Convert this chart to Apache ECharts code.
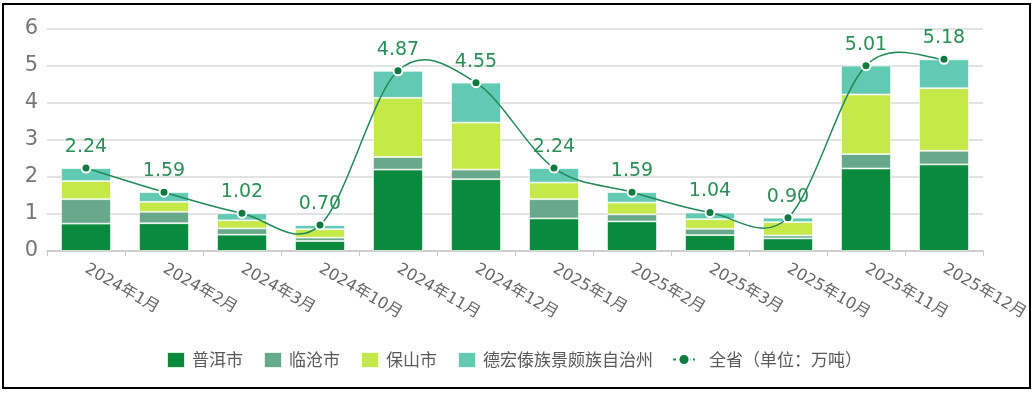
<!DOCTYPE html>
<html><head><meta charset="utf-8">
<script src="https://cdn.jsdelivr.net/npm/echarts@6/dist/echarts.min.js"></script>
<style>html,body{margin:0;padding:0;background:#fff}#c{width:1036px;height:393px}</style>
</head><body><div id="c"></div>
<script>
const categories = ['2024年1月','2024年2月','2024年3月','2024年10月','2024年11月','2024年12月','2025年1月','2025年2月','2025年3月','2025年10月','2025年11月','2025年12月'];
const puer    = [0.74,0.75,0.44,0.27,2.20,1.94,0.88,0.80,0.43,0.34,2.23,2.34];
const lincang = [0.66,0.31,0.17,0.09,0.34,0.26,0.52,0.19,0.17,0.08,0.39,0.37];
const baoshan = [0.49,0.27,0.22,0.23,1.60,1.27,0.45,0.32,0.26,0.36,1.61,1.69];
const dehong  = [0.35,0.26,0.19,0.11,0.73,1.08,0.39,0.28,0.18,0.12,0.78,0.78];
const total   = [2.24,1.59,1.02,0.70,4.87,4.55,2.24,1.59,1.04,0.90,5.01,5.18];
const yTicks  = [0,1,2,3,4,5,6];
const lineName = '全省（单位：万吨）';

const cjk = '"Noto Sans CJK SC", "Noto Sans", sans-serif';
const latin = '"DejaVu Sans", "Noto Sans CJK SC", sans-serif';
const lineColor = '#23895a';
const chart = echarts.init(document.getElementById('c'));
const barStyle = (c) => ({ color: c, borderColor: 'rgba(255,255,255,0.85)', borderWidth: 0.8 });

// Catmull-Rom smooth curve segment between point i and i+1, through the axis scales
function renderSeg(params, api) {
  const i = params.dataIndex, n = total.length;
  if (i >= n - 1) return null;
  const P = k => api.coord([Math.max(0, Math.min(n - 1, k)), total[Math.max(0, Math.min(n - 1, k))]]);
  const p0 = P(i - 1), p1 = P(i), p2 = P(i + 1), p3 = P(i + 2);
  return {
    type: 'bezierCurve',
    shape: {
      x1: p1[0], y1: p1[1], x2: p2[0], y2: p2[1],
      cpx1: p1[0] + (p2[0] - p0[0]) / 6, cpy1: p1[1] + (p2[1] - p0[1]) / 6,
      cpx2: p2[0] - (p3[0] - p1[0]) / 6, cpy2: p2[1] - (p3[1] - p1[1]) / 6
    },
    style: { stroke: lineColor, lineWidth: 1.5, fill: null }
  };
}

chart.setOption({
  animation: false,
  textStyle: { fontFamily: cjk },
  grid: { left: 47, right: 53, top: 29, bottom: 142, containLabel: false },
  legend: [{
    left: 166, top: 351, itemWidth: 18, itemHeight: 16, itemGap: 20, padding: 0,
    textStyle: { fontSize: 17, color: '#595959', fontFamily: cjk, padding: [0, 0, 0, 2] },
    data: [
      { name: '普洱市', icon: 'rect' },
      { name: '临沧市', icon: 'rect' },
      { name: '保山市', icon: 'rect' },
      { name: '德宏傣族景颇族自治州', icon: 'rect' }
    ]
  }, {
    left: 672, top: 351, itemWidth: 22, itemHeight: 14, padding: 0,
    textStyle: { fontSize: 17, color: '#595959', fontFamily: cjk, padding: [0, 0, 0, 9] },
    data: [{ name: lineName, lineStyle: { color: lineColor, width: 2, type: [3, 2], opacity: 1 } }]
  }],
  xAxis: {
    type: 'category', data: categories,
    axisLine: { lineStyle: { color: '#c8c8c8', width: 1.5 } },
    axisTick: { show: true, length: 5, lineStyle: { color: '#c8c8c8' } },
    axisLabel: { rotate: -30, fontSize: 16, color: '#666', margin: 17, interval: 0, fontFamily: latin }
  },
  yAxis: {
    type: 'value', min: yTicks[0], max: yTicks[yTicks.length - 1], interval: 1,
    axisLine: { show: false }, axisTick: { show: false },
    axisLabel: { fontSize: 21, color: '#777', margin: 9, fontFamily: latin },
    splitLine: { lineStyle: { color: '#d9d9d9', width: 1.5 } }
  },
  series: [
    { name: '普洱市', type: 'bar', stack: 's', barWidth: '64%', data: puer, itemStyle: barStyle('#0a8a3c') },
    { name: '临沧市', type: 'bar', stack: 's', data: lincang, itemStyle: barStyle('#67a98a') },
    { name: '保山市', type: 'bar', stack: 's', data: baoshan, itemStyle: barStyle('#c6e94a') },
    { name: '德宏傣族景颇族自治州', type: 'bar', stack: 's', data: dehong, itemStyle: barStyle('#62c9b3') },
    { name: '_curve', type: 'custom', data: total.map((v, i) => [i, v]), renderItem: renderSeg,
      silent: true, z: 4, encode: { x: 0, y: 1 } },
    { name: lineName, type: 'line', data: total,
      symbol: 'circle', symbolSize: 9,
      lineStyle: { color: lineColor, width: 0, opacity: 0 },
      itemStyle: { color: '#0f7a40', borderColor: '#fff', borderWidth: 2 },
      label: { show: true, position: 'top', distance: 6, fontSize: 19, color: '#2a8f57',
               fontFamily: latin, formatter: p => p.value.toFixed(2) },
      z: 5 }
  ],
  graphic: [{ type: 'rect', shape: { x: 3, y: 4, width: 1027, height: 384 },
              style: { fill: 'none', stroke: '#000', lineWidth: 2 }, silent: true, z: 100 }]
});
</script></body></html>
